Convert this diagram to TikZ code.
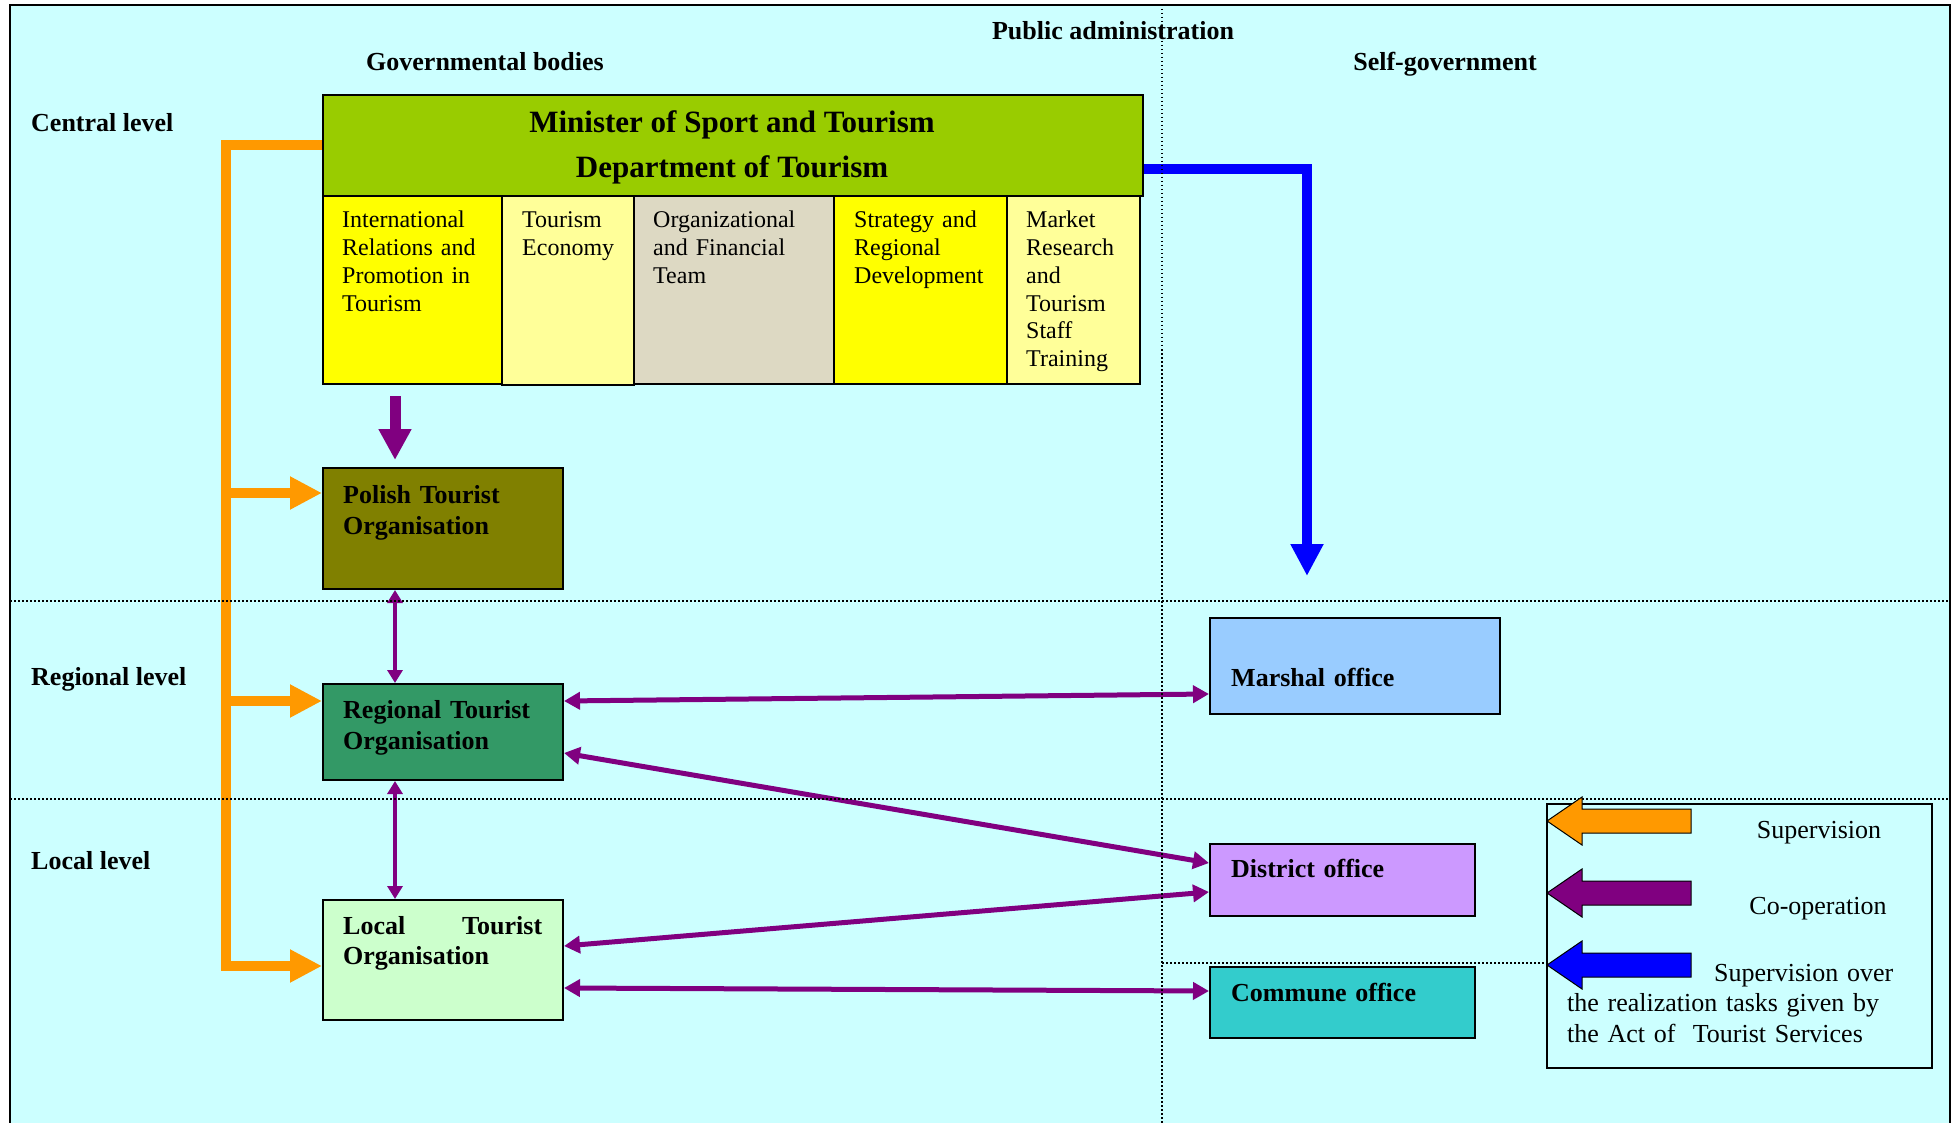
\documentclass[tikz,border=0pt]{standalone}
\usepackage{fontspec}
\setmainfont{Liberation Serif}
\usetikzlibrary{arrows.meta,calc}
\definecolor{bgc}{HTML}{CCFFFF}
\definecolor{hdrc}{HTML}{99CC00}
\definecolor{yelc}{HTML}{FFFF00}
\definecolor{lyelc}{HTML}{FFFF99}
\definecolor{grayc}{HTML}{DDD9C3}
\definecolor{olivec}{HTML}{808000}
\definecolor{rtoc}{HTML}{339966}
\definecolor{ltoc}{HTML}{CCFFCC}
\definecolor{marc}{HTML}{99CCFF}
\definecolor{disc}{HTML}{CC99FF}
\definecolor{comc}{HTML}{33CCCC}
\definecolor{orc}{HTML}{FF9900}
\definecolor{puc}{HTML}{800080}
\definecolor{blc}{HTML}{0000FF}
\begin{document}
\begin{tikzpicture}[x=1pt,y=1pt,
  box/.style={draw=black, line width=2pt, inner sep=0pt, anchor=north west},
  subtxt/.style={anchor=base west, inner sep=0pt, text width=200pt, align=left, font=\fontsize{24}{27.7}\selectfont},
  boxtxt/.style={anchor=base west, inner sep=0pt, text width=230pt, align=left, font=\fontsize{26}{31}\selectfont\bfseries},
  hd/.style={inner sep=0pt, font=\fontsize{26}{31}\selectfont\bfseries},
  legtxt/.style={inner sep=0pt, font=\fontsize{26}{30.5}\selectfont},
  dotl/.style={line width=1.5pt, dash pattern=on 1.5pt off 2.5pt},
  oline/.style={draw=orc, line width=10pt, line join=miter},
  otip/.style={-{Triangle[length=32pt,width=31pt]}},
  bline/.style={draw=blc, line width=10pt, line join=miter, -{Triangle[length=32pt,width=31pt]}},
  pdown/.style={draw=puc, line width=11pt, -{Triangle[length=31pt,width=31pt]}},
  pthin/.style={draw=puc, line width=4pt, {Triangle[length=13pt,width=15pt]}-{Triangle[length=13pt,width=15pt]}},
  pmid/.style={draw=puc, line width=5pt, {Triangle[length=16pt,width=17pt]}-{Triangle[length=16pt,width=17pt]}},
  legarrow/.style={draw=black, line width=1pt}
]
\fill[white] (0,0) rectangle (1955,-1123);
\useasboundingbox (0,0) rectangle (1955,-1123);
\fill[bgc] (10,-5) rectangle (1950,-1123);

% headings
\node[hd, anchor=base] (pa) at (1113,-40) {Public administration};
\node[hd, anchor=base] (gb) at (485,-71) {Governmental bodies};
\node[hd, anchor=base] (sg) at (1445,-71) {Self-government};
\node[hd, anchor=base west] (cl) at (31,-132) {Central level};
\node[hd, anchor=base west] (rl) at (31,-685) {Regional level};
\node[hd, anchor=base west] (ll) at (31,-869) {Local level};

% main box
\node[box, fill=hdrc, minimum width=820pt, minimum height=101pt] (hdr) at (322,-94) {};
\node[inner sep=0pt, align=center, font=\fontsize{31}{45}\selectfont\bfseries] (hdrT) at (732,-147) {Minister of Sport and Tourism\\Department of Tourism};
\node[box, fill=yelc, minimum width=179pt, minimum height=188pt] (b1) at (322,-195) {};
\node[box, fill=grayc, minimum width=200pt, minimum height=188pt] (b3) at (633,-195) {};
\node[box, fill=yelc, minimum width=173pt, minimum height=188pt] (b4) at (833,-195) {};
\node[box, fill=lyelc, minimum width=133pt, minimum height=188pt] (b5) at (1006,-195) {};
\node[box, fill=lyelc, minimum width=132pt, minimum height=189pt] (b2) at (501,-195) {};
\node[subtxt] (b1T) at (342,-228) {International\\Relations and\\Promotion in\\Tourism};
\node[subtxt] (b2T) at (522,-228) {Tourism\\Economy};
\node[subtxt] (b3T) at (653,-228) {Organizational\\and Financial\\Team};
\node[subtxt] (b4T) at (854,-228) {Strategy and\\Regional\\Development};
\node[subtxt] (b5T) at (1026,-228) {Market\\Research\\and\\Tourism\\Staff\\Training};

% organisations
\node[box, fill=olivec, minimum width=240pt, minimum height=121pt] (pto) at (322,-467) {};
\node[boxtxt] (ptoT) at (343,-503) {Polish Tourist\\Organisation};
\node[box, fill=rtoc, minimum width=240pt, minimum height=96pt] (rto) at (322,-683) {};
\node[boxtxt] (rtoT) at (343,-718) {Regional Tourist\\Organisation};
\node[box, fill=ltoc, minimum width=240pt, minimum height=120pt] (lto) at (322,-899) {};
\node[boxtxt, font=\fontsize{26}{30}\selectfont\bfseries] (ltoT) at (343,-934) {\hbox to 199pt{Local\hfill Tourist}\\Organisation};

\node[box, fill=marc, minimum width=290pt, minimum height=96pt] (mo) at (1209,-617) {};
\node[boxtxt] (moT) at (1231,-686) {Marshal office};
\node[box, fill=disc, minimum width=265pt, minimum height=72pt] (do) at (1209,-843) {};
\node[boxtxt] (doT) at (1231,-877) {District office};
\node[box, fill=comc, minimum width=265pt, minimum height=71pt] (co) at (1209,-966) {};
\node[boxtxt] (coT) at (1231,-1001) {Commune office};

% orange supervision bracket
\coordinate (sp) at (226,0);
\coordinate (pA) at ([yshift=35.5pt]pto.west);
\coordinate (rA) at ([yshift=31pt]rto.west);
\coordinate (lA) at ([yshift=-6pt]lto.west);
\draw[oline, otip] (hdr.west) -| (sp |- lA) -- (lA);
\draw[oline, otip] (sp |- pA) -- (pA);
\draw[oline, otip] (sp |- rA) -- (rA);

% blue
\coordinate (bE) at (1307,-576);
\draw[bline] ([yshift=-23.5pt]hdr.east) -| (bE);

% purple
\draw[pdown] ([xshift=-17.5pt,yshift=-11pt]b1.south) -- ([xshift=-48pt,yshift=7pt]pto.north);
\draw[pthin] ([xshift=-48pt]pto.south) -- ([xshift=-48pt]rto.north);
\draw[pthin] ([xshift=-48pt]rto.south) -- ([xshift=-48pt]lto.north);
\draw[pmid] ([yshift=31pt]rto.east) -- ([yshift=-28pt]mo.west);
\draw[pmid] ([yshift=-21pt]rto.east) -- ([yshift=17pt]do.west);
\draw[pmid] ([yshift=14pt]lto.east) -- ([yshift=-12pt]do.west);
\draw[pmid] ([yshift=-28pt]lto.east) -- ([yshift=11.5pt]co.west);

% dotted separators
\draw[dotl] (1162,-5) -- (1162,-1123);
\draw[dotl] (10,-601) -- (1950,-601);
\draw[dotl] (10,-799) -- (1950,-799);
\draw[dotl] (1162,-963) -- (1546,-963);

% legend
\node[box, minimum width=385pt, minimum height=264pt] (lg) at (1546,-803) {};
\filldraw[legarrow, fill=orc] (1547,-821) -- (1582,-797) -- (1582,-809) -- (1691,-809) -- (1691,-833) -- (1582,-833) -- (1582,-845) -- cycle;
\filldraw[legarrow, fill=puc] (1547,-893) -- (1582,-869) -- (1582,-881) -- (1691,-881) -- (1691,-905) -- (1582,-905) -- (1582,-917) -- cycle;
\filldraw[legarrow, fill=blc] (1547,-965) -- (1582,-941) -- (1582,-953) -- (1691,-953) -- (1691,-977) -- (1582,-977) -- (1582,-989) -- cycle;
\node[legtxt, anchor=base] (l1) at (1819,-838) {Supervision};
\node[legtxt, anchor=base] (l2) at (1818,-914) {Co-operation};
\node[legtxt, anchor=base west, text width=350pt, align=left] (l3) at (1567,-981) {\hspace*{147pt}Supervision over\\the realization tasks given by\\the Act of \ Tourist Services};

% outer frame
\draw[line width=2.5pt] (10,-1123) -- (10,-5) -- (1950,-5) -- (1950,-1123);
\end{tikzpicture}
\end{document}
